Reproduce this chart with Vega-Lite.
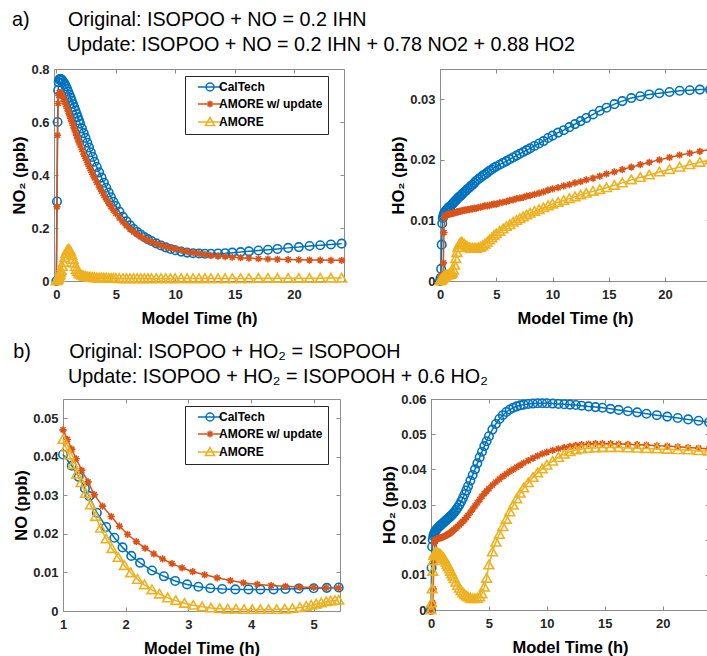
{
"$schema": "https://vega.github.io/schema/vega-lite/v6.json",
"padding": {"left": 11, "top": 10, "right": 0, "bottom": 0},
"background": "white",
"config": {
 "font": "Liberation Sans",
 "view": {"stroke": "#8c8c8c", "strokeWidth": 1},
 "axis": {"domain": false, "grid": false, "ticks": true, "tickSize": -4, "tickColor": "#8c8c8c", "domainColor": "#8c8c8c", "domainWidth": 1, "labelFont": "Liberation Sans", "labelFontSize": 13, "labelFontWeight": "bold", "labelColor": "#262626", "titleFont": "Liberation Sans", "titleFontSize": 16.5, "titleFontWeight": "bold", "titleColor": "#000", "labelFlush": false, "labelOverlap": false},
 "axisBottom": {"labelPadding": 11, "titlePadding": 9},
 "axisLeft": {"labelPadding": 9, "titlePadding": 3},
 "axisTop": {"labels": false},
 "axisRight": {"labels": false},
 "legend": {"padding": 5, "rowPadding": 3, "labelOffset": 17, "symbolSize": 64, "symbolStrokeWidth": 1.5, "symbolFillColor": "transparent", "labelFont": "Liberation Sans", "labelFontSize": 12, "labelFontWeight": "bold", "labelColor": "#000", "strokeColor": "#262626", "fillColor": "#fff", "labelLimit": 200},
 "title": {"font": "Liberation Sans", "fontSize": 19.75, "fontWeight": "normal", "color": "#000", "anchor": "start", "baseline": "top", "lineHeight": 25}
},
"datasets": {
"aL": [
{"t":0,"A":0,"B":0,"C":0},{"t":0.05,"A":0.3,"B":0.28,"C":0.003},{"t":0.1,"A":0.6,"B":0.55,"C":0.006},{"t":0.15,"A":0.72,"B":0.67,"C":0.01},{"t":0.2,"A":0.75,"B":0.7,"C":0.014},{"t":0.25,"A":0.76,"B":0.71,"C":0.02},{"t":0.3,"A":0.762,"B":0.712,"C":0.026},{"t":0.35,"A":0.762,"B":0.71,"C":0.033},{"t":0.4,"A":0.761,"B":0.707,"C":0.04},{"t":0.5,"A":0.757,"B":0.7,"C":0.055},{"t":0.6,"A":0.751,"B":0.69,"C":0.07},{"t":0.7,"A":0.744,"B":0.678,"C":0.088},{"t":0.8,"A":0.735,"B":0.665,"C":0.104},{"t":0.9,"A":0.725,"B":0.652,"C":0.115},{"t":1.0,"A":0.714,"B":0.64,"C":0.12},{"t":1.1,"A":0.703,"B":0.627,"C":0.118},{"t":1.2,"A":0.692,"B":0.614,"C":0.11},{"t":1.3,"A":0.68,"B":0.601,"C":0.097},{"t":1.4,"A":0.668,"B":0.588,"C":0.082},{"t":1.5,"A":0.656,"B":0.575,"C":0.067},{"t":1.6,"A":0.644,"B":0.562,"C":0.054},{"t":1.7,"A":0.631,"B":0.549,"C":0.044},{"t":1.8,"A":0.618,"B":0.537,"C":0.036},{"t":1.9,"A":0.606,"B":0.525,"C":0.03},{"t":2.0,"A":0.594,"B":0.513,"C":0.026},{"t":2.15,"A":0.576,"B":0.496,"C":0.022},{"t":2.3,"A":0.558,"B":0.479,"C":0.019},{"t":2.45,"A":0.54,"B":0.463,"C":0.017},{"t":2.6,"A":0.522,"B":0.447,"C":0.016},{"t":2.75,"A":0.504,"B":0.432,"C":0.015},{"t":2.9,"A":0.486,"B":0.417,"C":0.014},{"t":3.05,"A":0.468,"B":0.403,"C":0.013},{"t":3.2,"A":0.45,"B":0.389,"C":0.013},{"t":3.4,"A":0.43,"B":0.372,"C":0.012},{"t":3.6,"A":0.41,"B":0.355,"C":0.012},{"t":3.8,"A":0.39,"B":0.339,"C":0.011},{"t":4.0,"A":0.371,"B":0.323,"C":0.011},{"t":4.2,"A":0.352,"B":0.308,"C":0.011},{"t":4.4,"A":0.334,"B":0.294,"C":0.01},{"t":4.6,"A":0.316,"B":0.28,"C":0.01},{"t":4.8,"A":0.299,"B":0.267,"C":0.01},{"t":5.0,"A":0.283,"B":0.255,"C":0.01},{"t":5.3,"A":0.262,"B":0.238,"C":0.009},{"t":5.6,"A":0.242,"B":0.223,"C":0.009},{"t":5.9,"A":0.225,"B":0.209,"C":0.009},{"t":6.2,"A":0.21,"B":0.196,"C":0.009},{"t":6.5,"A":0.196,"B":0.185,"C":0.009},{"t":6.8,"A":0.185,"B":0.176,"C":0.009},{"t":7.1,"A":0.175,"B":0.167,"C":0.009},{"t":7.4,"A":0.166,"B":0.16,"C":0.009},{"t":7.7,"A":0.158,"B":0.154,"C":0.009},{"t":8.0,"A":0.151,"B":0.148,"C":0.009},{"t":8.4,"A":0.142,"B":0.141,"C":0.009},{"t":8.8,"A":0.134,"B":0.135,"C":0.009},{"t":9.2,"A":0.127,"B":0.13,"C":0.009},{"t":9.6,"A":0.121,"B":0.125,"C":0.009},{"t":10.0,"A":0.116,"B":0.121,"C":0.009},{"t":10.5,"A":0.111,"B":0.116,"C":0.009},{"t":11.0,"A":0.107,"B":0.111,"C":0.009},{"t":11.5,"A":0.105,"B":0.107,"C":0.009},{"t":12.0,"A":0.104,"B":0.103,"C":0.009},{"t":12.5,"A":0.103,"B":0.1,"C":0.009},{"t":13.0,"A":0.103,"B":0.097,"C":0.009},{"t":13.6,"A":0.104,"B":0.094,"C":0.009},{"t":14.2,"A":0.105,"B":0.092,"C":0.009},{"t":14.8,"A":0.107,"B":0.09,"C":0.009},{"t":15.5,"A":0.109,"B":0.088,"C":0.009},{"t":16.2,"A":0.112,"B":0.086,"C":0.009},{"t":17.0,"A":0.115,"B":0.084,"C":0.01},{"t":17.8,"A":0.118,"B":0.083,"C":0.01},{"t":18.6,"A":0.121,"B":0.082,"C":0.01},{"t":19.5,"A":0.125,"B":0.081,"C":0.01},{"t":20.4,"A":0.128,"B":0.08,"C":0.01},{"t":21.3,"A":0.132,"B":0.079,"C":0.01},{"t":22.2,"A":0.135,"B":0.079,"C":0.01},{"t":23.1,"A":0.138,"B":0.078,"C":0.011},{"t":24.0,"A":0.141,"B":0.078,"C":0.011}
],
"aR": [
{"t":0,"A":0,"B":0,"C":0},{"t":0.05,"A":0.0005,"B":0.0004,"C":0.0001},{"t":0.1,"A":0.002,"B":0.0007,"C":0.0002},{"t":0.15,"A":0.006,"B":0.0008,"C":0.0003},{"t":0.2,"A":0.0095,"B":0.0009,"C":0.0004},{"t":0.25,"A":0.0104,"B":0.001,"C":0.0005},{"t":0.3,"A":0.0108,"B":0.003,"C":0.0006},{"t":0.35,"A":0.0111,"B":0.008,"C":0.0007},{"t":0.4,"A":0.0113,"B":0.0105,"C":0.0008},{"t":0.5,"A":0.0116,"B":0.0108,"C":0.0009},{"t":0.6,"A":0.0118,"B":0.0109,"C":0.001},{"t":0.7,"A":0.012,"B":0.011,"C":0.001},{"t":0.8,"A":0.0122,"B":0.011,"C":0.0011},{"t":0.9,"A":0.0123,"B":0.0111,"C":0.0011},{"t":1.0,"A":0.0125,"B":0.0111,"C":0.0012},{"t":1.1,"A":0.0127,"B":0.0112,"C":0.0014},{"t":1.2,"A":0.0129,"B":0.0112,"C":0.0018},{"t":1.3,"A":0.0131,"B":0.0113,"C":0.0026},{"t":1.4,"A":0.0133,"B":0.0113,"C":0.0037},{"t":1.5,"A":0.0135,"B":0.0114,"C":0.0047},{"t":1.6,"A":0.0137,"B":0.0114,"C":0.0055},{"t":1.7,"A":0.0139,"B":0.0115,"C":0.006},{"t":1.8,"A":0.014,"B":0.0115,"C":0.0063},{"t":1.9,"A":0.0142,"B":0.0116,"C":0.0064},{"t":2.0,"A":0.0144,"B":0.0116,"C":0.0063},{"t":2.15,"A":0.0147,"B":0.0117,"C":0.0061},{"t":2.3,"A":0.0149,"B":0.0117,"C":0.0058},{"t":2.45,"A":0.0152,"B":0.0118,"C":0.0056},{"t":2.6,"A":0.0154,"B":0.0118,"C":0.0055},{"t":2.75,"A":0.0157,"B":0.0119,"C":0.0054},{"t":2.9,"A":0.0159,"B":0.0119,"C":0.0054},{"t":3.05,"A":0.0162,"B":0.012,"C":0.0054},{"t":3.2,"A":0.0165,"B":0.012,"C":0.0054},{"t":3.4,"A":0.0168,"B":0.0121,"C":0.0055},{"t":3.6,"A":0.0171,"B":0.0122,"C":0.0056},{"t":3.8,"A":0.0174,"B":0.0123,"C":0.0058},{"t":4.0,"A":0.0176,"B":0.0124,"C":0.0061},{"t":4.2,"A":0.0179,"B":0.0124,"C":0.0064},{"t":4.4,"A":0.0182,"B":0.0125,"C":0.0068},{"t":4.6,"A":0.0184,"B":0.0126,"C":0.0071},{"t":4.8,"A":0.0187,"B":0.0127,"C":0.0075},{"t":5.0,"A":0.0189,"B":0.0127,"C":0.0078},{"t":5.3,"A":0.0192,"B":0.0129,"C":0.0082},{"t":5.6,"A":0.0195,"B":0.013,"C":0.0086},{"t":5.9,"A":0.0198,"B":0.0131,"C":0.009},{"t":6.2,"A":0.0201,"B":0.0133,"C":0.0093},{"t":6.5,"A":0.0204,"B":0.0134,"C":0.0097},{"t":6.8,"A":0.0207,"B":0.0136,"C":0.01},{"t":7.1,"A":0.021,"B":0.0137,"C":0.0103},{"t":7.4,"A":0.0213,"B":0.0138,"C":0.0106},{"t":7.7,"A":0.0216,"B":0.014,"C":0.0109},{"t":8.0,"A":0.0219,"B":0.0141,"C":0.0112},{"t":8.4,"A":0.0223,"B":0.0143,"C":0.0115},{"t":8.8,"A":0.0227,"B":0.0145,"C":0.0118},{"t":9.2,"A":0.0231,"B":0.0147,"C":0.0121},{"t":9.6,"A":0.0236,"B":0.015,"C":0.0124},{"t":10.0,"A":0.024,"B":0.0152,"C":0.0127},{"t":10.5,"A":0.0245,"B":0.0154,"C":0.013},{"t":11.0,"A":0.0249,"B":0.0157,"C":0.0133},{"t":11.5,"A":0.0254,"B":0.0159,"C":0.0136},{"t":12.0,"A":0.0259,"B":0.0162,"C":0.0139},{"t":12.5,"A":0.0264,"B":0.0164,"C":0.0142},{"t":13.0,"A":0.0269,"B":0.0167,"C":0.0145},{"t":13.6,"A":0.0275,"B":0.017,"C":0.0148},{"t":14.2,"A":0.0281,"B":0.0173,"C":0.0151},{"t":14.8,"A":0.0286,"B":0.0177,"C":0.0154},{"t":15.5,"A":0.0292,"B":0.018,"C":0.0158},{"t":16.2,"A":0.0297,"B":0.0184,"C":0.0162},{"t":17.0,"A":0.0302,"B":0.0188,"C":0.0167},{"t":17.8,"A":0.0305,"B":0.0192,"C":0.0171},{"t":18.6,"A":0.0308,"B":0.0196,"C":0.0175},{"t":19.5,"A":0.031,"B":0.02,"C":0.018},{"t":20.4,"A":0.0312,"B":0.0204,"C":0.0184},{"t":21.3,"A":0.0314,"B":0.0208,"C":0.0188},{"t":22.2,"A":0.0315,"B":0.0211,"C":0.0192},{"t":23.1,"A":0.0316,"B":0.0214,"C":0.0196},{"t":24.0,"A":0.0316,"B":0.0217,"C":0.02}
],
"bR": [
{"t":0,"A":0,"B":0,"C":0},{"t":0.05,"A":0.012,"B":0.0005,"C":0.002},{"t":0.1,"A":0.018,"B":0.001,"C":0.006},{"t":0.15,"A":0.02,"B":0.002,"C":0.011},{"t":0.2,"A":0.021,"B":0.006,"C":0.014},{"t":0.25,"A":0.0215,"B":0.014,"C":0.0155},{"t":0.3,"A":0.022,"B":0.019,"C":0.016},{"t":0.35,"A":0.0223,"B":0.0198,"C":0.0162},{"t":0.4,"A":0.0226,"B":0.02,"C":0.0163},{"t":0.5,"A":0.023,"B":0.0202,"C":0.0163},{"t":0.6,"A":0.0234,"B":0.0203,"C":0.0162},{"t":0.7,"A":0.0237,"B":0.0204,"C":0.016},{"t":0.8,"A":0.024,"B":0.0205,"C":0.0158},{"t":0.9,"A":0.0243,"B":0.0206,"C":0.0155},{"t":1.0,"A":0.0246,"B":0.0207,"C":0.0151},{"t":1.1,"A":0.0249,"B":0.0209,"C":0.0147},{"t":1.2,"A":0.0252,"B":0.021,"C":0.0142},{"t":1.3,"A":0.0255,"B":0.0212,"C":0.0136},{"t":1.4,"A":0.0258,"B":0.0214,"C":0.013},{"t":1.5,"A":0.0261,"B":0.0216,"C":0.0124},{"t":1.6,"A":0.0264,"B":0.0218,"C":0.0117},{"t":1.7,"A":0.0267,"B":0.022,"C":0.011},{"t":1.8,"A":0.027,"B":0.0223,"C":0.0103},{"t":1.9,"A":0.0274,"B":0.0226,"C":0.0096},{"t":2.0,"A":0.0278,"B":0.0229,"C":0.0089},{"t":2.15,"A":0.0284,"B":0.0233,"C":0.0079},{"t":2.3,"A":0.0291,"B":0.0237,"C":0.007},{"t":2.45,"A":0.0299,"B":0.0242,"C":0.0062},{"t":2.6,"A":0.0308,"B":0.0247,"C":0.0055},{"t":2.75,"A":0.0318,"B":0.0252,"C":0.0049},{"t":2.9,"A":0.0329,"B":0.0257,"C":0.0044},{"t":3.05,"A":0.034,"B":0.0263,"C":0.004},{"t":3.2,"A":0.0352,"B":0.0269,"C":0.0037},{"t":3.4,"A":0.0368,"B":0.0278,"C":0.0034},{"t":3.6,"A":0.0384,"B":0.0287,"C":0.0032},{"t":3.8,"A":0.04,"B":0.0296,"C":0.0032},{"t":4.0,"A":0.0417,"B":0.0305,"C":0.0033},{"t":4.2,"A":0.0434,"B":0.0314,"C":0.0037},{"t":4.4,"A":0.045,"B":0.0323,"C":0.0046},{"t":4.6,"A":0.0466,"B":0.0331,"C":0.0065},{"t":4.8,"A":0.048,"B":0.0338,"C":0.009},{"t":5.0,"A":0.0494,"B":0.0345,"C":0.0128},{"t":5.3,"A":0.0513,"B":0.0355,"C":0.0165},{"t":5.6,"A":0.0529,"B":0.0364,"C":0.0193},{"t":5.9,"A":0.0543,"B":0.0372,"C":0.0215},{"t":6.2,"A":0.0554,"B":0.038,"C":0.0237},{"t":6.5,"A":0.0563,"B":0.0387,"C":0.0258},{"t":6.8,"A":0.057,"B":0.0394,"C":0.0279},{"t":7.1,"A":0.0575,"B":0.04,"C":0.0298},{"t":7.4,"A":0.0579,"B":0.0406,"C":0.0316},{"t":7.7,"A":0.0582,"B":0.0412,"C":0.0332},{"t":8.0,"A":0.0584,"B":0.0418,"C":0.0347},{"t":8.4,"A":0.0586,"B":0.0425,"C":0.0362},{"t":8.8,"A":0.0587,"B":0.0432,"C":0.0377},{"t":9.2,"A":0.0588,"B":0.0438,"C":0.039},{"t":9.6,"A":0.0588,"B":0.0444,"C":0.0401},{"t":10.0,"A":0.0588,"B":0.0449,"C":0.0412},{"t":10.5,"A":0.0587,"B":0.0454,"C":0.0423},{"t":11.0,"A":0.0586,"B":0.0458,"C":0.0434},{"t":11.5,"A":0.0585,"B":0.0462,"C":0.0443},{"t":12.0,"A":0.0584,"B":0.0465,"C":0.045},{"t":12.5,"A":0.0583,"B":0.0468,"C":0.0455},{"t":13.0,"A":0.0581,"B":0.047,"C":0.0458},{"t":13.6,"A":0.0579,"B":0.0472,"C":0.046},{"t":14.2,"A":0.0577,"B":0.0473,"C":0.0461},{"t":14.8,"A":0.0575,"B":0.0473,"C":0.0462},{"t":15.5,"A":0.0572,"B":0.0473,"C":0.0462},{"t":16.2,"A":0.0569,"B":0.0472,"C":0.0462},{"t":17.0,"A":0.0565,"B":0.0471,"C":0.0461},{"t":17.8,"A":0.0562,"B":0.047,"C":0.046},{"t":18.6,"A":0.0558,"B":0.0469,"C":0.0459},{"t":19.5,"A":0.0554,"B":0.0467,"C":0.0458},{"t":20.4,"A":0.055,"B":0.0466,"C":0.0457},{"t":21.3,"A":0.0546,"B":0.0464,"C":0.0456},{"t":22.2,"A":0.0542,"B":0.0462,"C":0.0455},{"t":23.1,"A":0.0538,"B":0.046,"C":0.0453},{"t":24.0,"A":0.0534,"B":0.0458,"C":0.0452}
],
"bL": [
{"s":"A","t":1.0,"v":0.0406},{"s":"A","t":1.14,"v":0.0377},{"s":"A","t":1.25,"v":0.0348},{"s":"A","t":1.35,"v":0.0318},{"s":"A","t":1.42,"v":0.0298},{"s":"A","t":1.54,"v":0.0255},{"s":"A","t":1.69,"v":0.0218},{"s":"A","t":1.82,"v":0.019},{"s":"A","t":1.95,"v":0.0165},{"s":"A","t":2.09,"v":0.0143},{"s":"A","t":2.23,"v":0.0125},{"s":"A","t":2.42,"v":0.0105},{"s":"A","t":2.61,"v":0.009},{"s":"A","t":2.79,"v":0.0078},{"s":"A","t":2.98,"v":0.0069},{"s":"A","t":3.16,"v":0.0063},{"s":"A","t":3.35,"v":0.0059},{"s":"A","t":3.54,"v":0.0057},{"s":"A","t":3.75,"v":0.0056},{"s":"A","t":3.96,"v":0.0056},{"s":"A","t":4.15,"v":0.0056},{"s":"A","t":4.36,"v":0.0056},{"s":"A","t":4.55,"v":0.0057},{"s":"A","t":4.76,"v":0.0058},{"s":"A","t":5.0,"v":0.0059},{"s":"A","t":5.21,"v":0.006},{"s":"A","t":5.4,"v":0.0061},
{"s":"B","t":1.0,"v":0.047},{"s":"B","t":1.07,"v":0.0445},{"s":"B","t":1.14,"v":0.042},{"s":"B","t":1.21,"v":0.0395},{"s":"B","t":1.3,"v":0.0365},{"s":"B","t":1.4,"v":0.0335},{"s":"B","t":1.5,"v":0.0302},{"s":"B","t":1.63,"v":0.0272},{"s":"B","t":1.77,"v":0.0245},{"s":"B","t":1.9,"v":0.022},{"s":"B","t":2.03,"v":0.0199},{"s":"B","t":2.17,"v":0.018},{"s":"B","t":2.31,"v":0.0163},{"s":"B","t":2.45,"v":0.0148},{"s":"B","t":2.59,"v":0.0135},{"s":"B","t":2.74,"v":0.0123},{"s":"B","t":2.9,"v":0.0112},{"s":"B","t":3.07,"v":0.0102},{"s":"B","t":3.26,"v":0.0094},{"s":"B","t":3.46,"v":0.0086},{"s":"B","t":3.67,"v":0.0079},{"s":"B","t":3.88,"v":0.0073},{"s":"B","t":4.1,"v":0.0069},{"s":"B","t":4.32,"v":0.0066},{"s":"B","t":4.55,"v":0.0064},{"s":"B","t":4.78,"v":0.0062},{"s":"B","t":5.0,"v":0.0061},{"s":"B","t":5.2,"v":0.006},{"s":"B","t":5.4,"v":0.006},
{"s":"C","t":1.0,"v":0.0445},{"s":"C","t":1.05,"v":0.0425},{"s":"C","t":1.1,"v":0.0405},{"s":"C","t":1.16,"v":0.038},{"s":"C","t":1.22,"v":0.0355},{"s":"C","t":1.29,"v":0.0333},{"s":"C","t":1.36,"v":0.0305},{"s":"C","t":1.44,"v":0.0275},{"s":"C","t":1.52,"v":0.0245},{"s":"C","t":1.6,"v":0.0215},{"s":"C","t":1.69,"v":0.0187},{"s":"C","t":1.78,"v":0.0162},{"s":"C","t":1.88,"v":0.0139},{"s":"C","t":1.98,"v":0.0118},{"s":"C","t":2.08,"v":0.0099},{"s":"C","t":2.19,"v":0.0082},{"s":"C","t":2.3,"v":0.0068},{"s":"C","t":2.42,"v":0.0055},{"s":"C","t":2.54,"v":0.0044},{"s":"C","t":2.67,"v":0.0034},{"s":"C","t":2.8,"v":0.0027},{"s":"C","t":2.94,"v":0.002},{"s":"C","t":3.08,"v":0.0015},{"s":"C","t":3.22,"v":0.0011},{"s":"C","t":3.36,"v":0.0008},{"s":"C","t":3.5,"v":0.0006},{"s":"C","t":3.63,"v":0.0005},{"s":"C","t":3.76,"v":0.0005},{"s":"C","t":3.89,"v":0.0004},{"s":"C","t":4.02,"v":0.0004},{"s":"C","t":4.15,"v":0.0004},{"s":"C","t":4.28,"v":0.0004},{"s":"C","t":4.41,"v":0.0004},{"s":"C","t":4.54,"v":0.0005},{"s":"C","t":4.66,"v":0.0006},{"s":"C","t":4.78,"v":0.0009},{"s":"C","t":4.88,"v":0.0012},{"s":"C","t":4.96,"v":0.0015},{"s":"C","t":5.04,"v":0.0018},{"s":"C","t":5.12,"v":0.0021},{"s":"C","t":5.2,"v":0.0024},{"s":"C","t":5.27,"v":0.0026},{"s":"C","t":5.34,"v":0.0027},{"s":"C","t":5.4,"v":0.0028}
]
},
"columns": 1,
"align": "none",
"spacing": 14,
"resolve": {"scale": {"color": "independent", "shape": "independent"}, "legend": {"color": "independent", "shape": "independent"}},
"concat": [
 {
  "title": {"text": ["a)\u00a0\u00a0\u00a0\u00a0\u00a0\u00a0\u00a0Original: ISOPOO + NO = 0.2 IHN", "\u200b\u00a0\u00a0\u00a0\u00a0\u00a0\u00a0\u00a0\u00a0\u00a0\u00a0Update: ISOPOO + NO = 0.2 IHN + 0.78 NO2 + 0.88 HO2"], "frame": "bounds", "offset": 8},
  "spacing": 96,
  "bounds": "flush",
  "resolve": {"scale": {"color": "independent", "shape": "independent"}, "legend": {"color": "independent", "shape": "independent"}},
  "hconcat": [
   {
    "width": 281, "height": 212,
    "view": {"stroke": null},
    "data": {"name": "aL"},
    "transform": [{"fold": ["A","B","C"], "as": ["s","v"]}],
    "encoding": {
     "x": {"field": "t", "type": "quantitative", "scale": {"domain": [-0.2, 24.2], "range": [-9, 281], "nice": false, "zero": false}, "axis": null},
     "y": {"field": "v", "type": "quantitative", "scale": {"domain": [0, 0.8], "nice": false, "zero": false}, "axis": null}
    },
    "resolve": {"axis": {"x": "independent", "y": "independent"}},
    "layer": [
     {"transform": [{"filter": "datum.s == 'A'"}], "mark": {"type": "line", "color": "#0072BD", "strokeWidth": 1.5},
      "encoding": {
       "x": {"field": "t", "type": "quantitative", "scale": {"domain": [-0.2, 24.2], "range": [-9, 281], "nice": false, "zero": false}, "axis": {"orient": "bottom", "values": [0,5,10,15,20], "title": "Model Time (h)", "domain": true}},
       "y": {"field": "v", "type": "quantitative", "scale": {"domain": [0, 0.8], "nice": false, "zero": false}, "axis": {"orient": "left", "offset": 9, "values": [0,0.2,0.4,0.6,0.8], "format": "~g", "title": "NO\u2082 (ppb)", "domain": true}}
      }},
     {"transform": [{"filter": "datum.s == 'A'"}], "mark": {"type": "point", "shape": "circle", "color": "#0072BD", "filled": false, "strokeWidth": 1.6, "size": 72, "opacity": 1},
      "encoding": {
       "x": {"field": "t", "type": "quantitative", "scale": {"domain": [-0.2, 24.2], "range": [-9, 281], "nice": false, "zero": false}, "axis": {"orient": "top", "values": [0,5,10,15,20], "labels": false, "title": null, "domain": true}},
       "y": {"field": "v", "type": "quantitative", "scale": {"domain": [0, 0.8], "nice": false, "zero": false}, "axis": {"orient": "right", "values": [0,0.2,0.4,0.6,0.8], "labels": false, "title": null, "domain": true}}
      }},
     {"transform": [{"filter": "datum.s == 'B'"}], "mark": {"type": "line", "color": "#D95319", "strokeWidth": 1.5}, "encoding": {}},
     {"transform": [{"filter": "datum.s == 'B'"}], "mark": {"type": "point", "shape": "M-0.85,0L0.85,0M0,-0.85L0,0.85M-0.6,-0.6L0.6,0.6M-0.6,0.6L0.6,-0.6", "color": "#D95319", "filled": false, "strokeWidth": 1.6, "size": 72, "opacity": 1}, "encoding": {}},
     {"transform": [{"filter": "datum.s == 'C'"}], "mark": {"type": "line", "color": "#EDB120", "strokeWidth": 1.5}, "encoding": {}},
     {"transform": [{"filter": "datum.s == 'C'"}], "mark": {"type": "point", "shape": "M0,-1.1L1.15,0.9L-1.15,0.9Z", "color": "#EDB120", "filled": false, "strokeWidth": 1.6, "size": 72, "opacity": 1}, "encoding": {}},
     {"transform": [{"filter": "false"}], "mark": {"type": "point", "filled": false, "strokeWidth": 1.5, "opacity": 1},
      "encoding": {
       "color": {"field": "s", "type": "nominal", "scale": {"domain": ["A","B","C"], "range": ["#0072BD","#D95319","#EDB120"]},
        "legend": {"orient": "none", "legendX": 122, "legendY": 7, "title": null, "labelExpr": "datum.value == 'A' ? 'CalTech' : datum.value == 'B' ? 'AMORE w/ update' : 'AMORE'"}},
       "shape": {"field": "s", "type": "nominal", "scale": {"domain": ["A","B","C"], "range": ["M0.5,0L6.5,0M2.5,0A1,1,0,1,1,4.5,0A1,1,0,1,1,2.5,0","M0.5,0L6.5,0M3.5,-0.85L3.5,0.85M2.65,0L4.35,0M2.9,-0.6L4.1,0.6M2.9,0.6L4.1,-0.6","M0.5,0L6.5,0M3.5,-1.1L4.65,0.9L2.35,0.9Z"]},
        "legend": {"orient": "none", "legendX": 122, "legendY": 7, "title": null, "labelExpr": "datum.value == 'A' ? 'CalTech' : datum.value == 'B' ? 'AMORE w/ update' : 'AMORE'"}}
      }}
    ]
   },
   {
    "width": 270, "height": 212,
    "data": {"name": "aR"},
    "transform": [{"fold": ["A","B","C"], "as": ["s","v"]}],
    "encoding": {
     "x": {"field": "t", "type": "quantitative", "scale": {"domain": [0, 24], "nice": false, "zero": false}, "axis": null},
     "y": {"field": "v", "type": "quantitative", "scale": {"domain": [0, 0.035], "nice": false, "zero": false}, "axis": null}
    },
    "resolve": {"axis": {"x": "independent", "y": "independent"}},
    "layer": [
     {"transform": [{"filter": "datum.s == 'A'"}], "mark": {"type": "line", "color": "#0072BD", "strokeWidth": 1.5},
      "encoding": {
       "x": {"field": "t", "type": "quantitative", "scale": {"domain": [0, 24], "nice": false, "zero": false}, "axis": {"orient": "bottom", "values": [0,5,10,15,20], "title": "Model Time (h)"}},
       "y": {"field": "v", "type": "quantitative", "scale": {"domain": [0, 0.035], "nice": false, "zero": false}, "axis": {"orient": "left", "values": [0,0.01,0.02,0.03], "format": "~g", "title": "HO\u2082 (ppb)"}}
      }},
     {"transform": [{"filter": "datum.s == 'A'"}], "mark": {"type": "point", "shape": "circle", "color": "#0072BD", "filled": false, "strokeWidth": 1.6, "size": 72, "opacity": 1},
      "encoding": {
       "x": {"field": "t", "type": "quantitative", "scale": {"domain": [0, 24], "nice": false, "zero": false}, "axis": {"orient": "top", "values": [0,5,10,15,20], "labels": false, "title": null}},
       "y": {"field": "v", "type": "quantitative", "scale": {"domain": [0, 0.035], "nice": false, "zero": false}, "axis": {"orient": "right", "values": [0,0.01,0.02,0.03], "labels": false, "title": null}}
      }},
     {"transform": [{"filter": "datum.s == 'B'"}], "mark": {"type": "line", "color": "#D95319", "strokeWidth": 1.5}, "encoding": {}},
     {"transform": [{"filter": "datum.s == 'B'"}], "mark": {"type": "point", "shape": "M-0.85,0L0.85,0M0,-0.85L0,0.85M-0.6,-0.6L0.6,0.6M-0.6,0.6L0.6,-0.6", "color": "#D95319", "filled": false, "strokeWidth": 1.6, "size": 72, "opacity": 1}, "encoding": {}},
     {"transform": [{"filter": "datum.s == 'C'"}], "mark": {"type": "line", "color": "#EDB120", "strokeWidth": 1.5}, "encoding": {}},
     {"transform": [{"filter": "datum.s == 'C'"}], "mark": {"type": "point", "shape": "M0,-1.1L1.15,0.9L-1.15,0.9Z", "color": "#EDB120", "filled": false, "strokeWidth": 1.6, "size": 72, "opacity": 1}, "encoding": {}}
    ]
   }
  ]
 },
 {
  "title": {"text": ["b)\u00a0\u00a0\u00a0\u00a0\u00a0\u00a0\u00a0Original: ISOPOO + HO\u2082 = ISOPOOH", "\u200b\u00a0\u00a0\u00a0\u00a0\u00a0\u00a0\u00a0\u00a0\u00a0\u00a0Update: ISOPOO + HO\u2082 = ISOPOOH + 0.6 HO\u2082"], "frame": "bounds", "offset": 6},
  "spacing": 91,
  "bounds": "flush",
  "resolve": {"scale": {"color": "independent", "shape": "independent"}, "legend": {"color": "independent", "shape": "independent"}},
  "hconcat": [
   {
    "width": 277, "height": 212,
    "data": {"name": "bL"},
    "encoding": {
     "x": {"field": "t", "type": "quantitative", "scale": {"domain": [1, 5.42], "nice": false, "zero": false}, "axis": null},
     "y": {"field": "v", "type": "quantitative", "scale": {"domain": [0, 0.055], "nice": false, "zero": false}, "axis": null}
    },
    "resolve": {"axis": {"x": "independent", "y": "independent"}},
    "layer": [
     {"transform": [{"filter": "datum.s == 'A'"}], "mark": {"type": "line", "color": "#0072BD", "strokeWidth": 1.5},
      "encoding": {
       "x": {"field": "t", "type": "quantitative", "scale": {"domain": [1, 5.42], "nice": false, "zero": false}, "axis": {"orient": "bottom", "values": [1,2,3,4,5], "title": "Model Time (h)"}},
       "y": {"field": "v", "type": "quantitative", "scale": {"domain": [0, 0.055], "nice": false, "zero": false}, "axis": {"orient": "left", "values": [0,0.01,0.02,0.03,0.04,0.05], "format": "~g", "title": "NO (ppb)"}}
      }},
     {"transform": [{"filter": "datum.s == 'A'"}], "mark": {"type": "point", "shape": "circle", "color": "#0072BD", "filled": false, "strokeWidth": 1.6, "size": 72, "opacity": 1},
      "encoding": {
       "x": {"field": "t", "type": "quantitative", "scale": {"domain": [1, 5.42], "nice": false, "zero": false}, "axis": {"orient": "top", "values": [1,2,3,4,5], "labels": false, "title": null}},
       "y": {"field": "v", "type": "quantitative", "scale": {"domain": [0, 0.055], "nice": false, "zero": false}, "axis": {"orient": "right", "values": [0,0.01,0.02,0.03,0.04,0.05], "labels": false, "title": null}}
      }},
     {"transform": [{"filter": "datum.s == 'B'"}], "mark": {"type": "line", "color": "#D95319", "strokeWidth": 1.5}, "encoding": {}},
     {"transform": [{"filter": "datum.s == 'B'"}], "mark": {"type": "point", "shape": "M-0.85,0L0.85,0M0,-0.85L0,0.85M-0.6,-0.6L0.6,0.6M-0.6,0.6L0.6,-0.6", "color": "#D95319", "filled": false, "strokeWidth": 1.6, "size": 72, "opacity": 1}, "encoding": {}},
     {"transform": [{"filter": "datum.s == 'C'"}], "mark": {"type": "line", "color": "#EDB120", "strokeWidth": 1.5}, "encoding": {}},
     {"transform": [{"filter": "datum.s == 'C'"}], "mark": {"type": "point", "shape": "M0,-1.1L1.15,0.9L-1.15,0.9Z", "color": "#EDB120", "filled": false, "strokeWidth": 1.6, "size": 72, "opacity": 1}, "encoding": {}},
     {"transform": [{"filter": "false"}], "mark": {"type": "point", "filled": false, "strokeWidth": 1.5, "opacity": 1},
      "encoding": {
       "color": {"field": "s", "type": "nominal", "scale": {"domain": ["A","B","C"], "range": ["#0072BD","#D95319","#EDB120"]},
        "legend": {"orient": "none", "legendX": 122, "legendY": 7, "title": null, "labelExpr": "datum.value == 'A' ? 'CalTech' : datum.value == 'B' ? 'AMORE w/ update' : 'AMORE'"}},
       "shape": {"field": "s", "type": "nominal", "scale": {"domain": ["A","B","C"], "range": ["M0.5,0L6.5,0M2.5,0A1,1,0,1,1,4.5,0A1,1,0,1,1,2.5,0","M0.5,0L6.5,0M3.5,-0.85L3.5,0.85M2.65,0L4.35,0M2.9,-0.6L4.1,0.6M2.9,0.6L4.1,-0.6","M0.5,0L6.5,0M3.5,-1.1L4.65,0.9L2.35,0.9Z"]},
        "legend": {"orient": "none", "legendX": 122, "legendY": 7, "title": null, "labelExpr": "datum.value == 'A' ? 'CalTech' : datum.value == 'B' ? 'AMORE w/ update' : 'AMORE'"}}
      }}
    ]
   },
   {
    "width": 278, "height": 211,
    "data": {"name": "bR"},
    "transform": [{"fold": ["A","B","C"], "as": ["s","v"]}],
    "encoding": {
     "x": {"field": "t", "type": "quantitative", "scale": {"domain": [0, 24], "nice": false, "zero": false}, "axis": null},
     "y": {"field": "v", "type": "quantitative", "scale": {"domain": [0, 0.06], "nice": false, "zero": false}, "axis": null}
    },
    "resolve": {"axis": {"x": "independent", "y": "independent"}},
    "layer": [
     {"transform": [{"filter": "datum.s == 'A'"}], "mark": {"type": "line", "color": "#0072BD", "strokeWidth": 1.5},
      "encoding": {
       "x": {"field": "t", "type": "quantitative", "scale": {"domain": [0, 24], "nice": false, "zero": false}, "axis": {"orient": "bottom", "values": [0,5,10,15,20], "title": "Model Time (h)"}},
       "y": {"field": "v", "type": "quantitative", "scale": {"domain": [0, 0.06], "nice": false, "zero": false}, "axis": {"orient": "left", "values": [0,0.01,0.02,0.03,0.04,0.05,0.06], "format": "~g", "title": "HO\u2082 (ppb)"}}
      }},
     {"transform": [{"filter": "datum.s == 'A'"}], "mark": {"type": "point", "shape": "circle", "color": "#0072BD", "filled": false, "strokeWidth": 1.6, "size": 72, "opacity": 1},
      "encoding": {
       "x": {"field": "t", "type": "quantitative", "scale": {"domain": [0, 24], "nice": false, "zero": false}, "axis": {"orient": "top", "values": [0,5,10,15,20], "labels": false, "title": null}},
       "y": {"field": "v", "type": "quantitative", "scale": {"domain": [0, 0.06], "nice": false, "zero": false}, "axis": {"orient": "right", "values": [0,0.01,0.02,0.03,0.04,0.05,0.06], "labels": false, "title": null}}
      }},
     {"transform": [{"filter": "datum.s == 'B'"}], "mark": {"type": "line", "color": "#D95319", "strokeWidth": 1.5}, "encoding": {}},
     {"transform": [{"filter": "datum.s == 'B'"}], "mark": {"type": "point", "shape": "M-0.85,0L0.85,0M0,-0.85L0,0.85M-0.6,-0.6L0.6,0.6M-0.6,0.6L0.6,-0.6", "color": "#D95319", "filled": false, "strokeWidth": 1.6, "size": 72, "opacity": 1}, "encoding": {}},
     {"transform": [{"filter": "datum.s == 'C'"}], "mark": {"type": "line", "color": "#EDB120", "strokeWidth": 1.5}, "encoding": {}},
     {"transform": [{"filter": "datum.s == 'C'"}], "mark": {"type": "point", "shape": "M0,-1.1L1.15,0.9L-1.15,0.9Z", "color": "#EDB120", "filled": false, "strokeWidth": 1.6, "size": 72, "opacity": 1}, "encoding": {}}
    ]
   }
  ]
 }
]
}
